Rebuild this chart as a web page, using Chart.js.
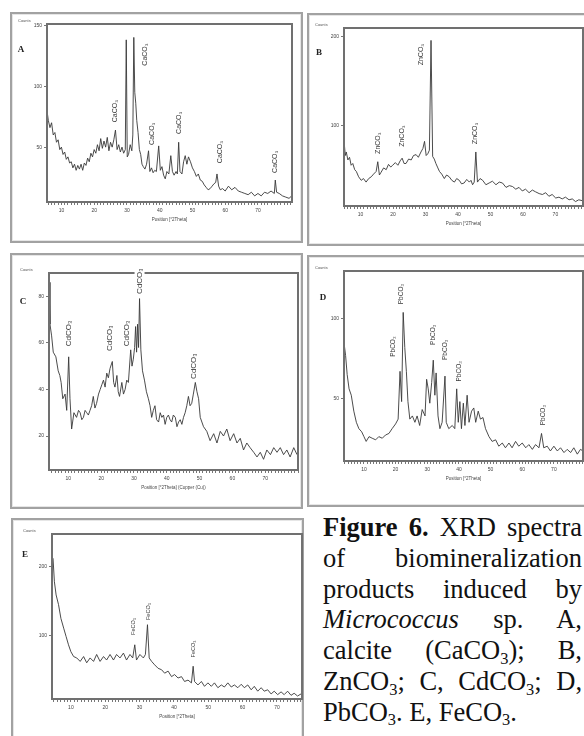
<!DOCTYPE html>
<html>
<head>
<meta charset="utf-8">
<script src="https://cdn.jsdelivr.net/npm/chart.js@4"></script>
<style>
  body { margin: 0; background: #fff; width: 584px; height: 736px; overflow: hidden; position: relative; }
  .box { position: absolute; box-sizing: border-box; border: 2px solid #a2a2a2; box-shadow: inset 0 0 0 1px #e6e6e6; }
  canvas { position: absolute; }
  #caption { position: absolute; left: 323px; top: 512px; width: 259px; font-family: "Liberation Serif", serif; font-size: 26.5px; line-height: 30.8px; color: #111; }
  #caption div { text-align: justify; text-align-last: justify; white-space: nowrap; }
  #caption div.last { text-align-last: left; }
  #caption sub { font-size: 0.62em; vertical-align: baseline; position: relative; top: 0.28em; line-height: 0; }
</style>
</head>
<body>
<div class="box" style="left:10px;top:12px;width:293px;height:231px"></div>
<div class="box" style="left:307px;top:13px;width:285px;height:233px"></div>
<div class="box" style="left:10px;top:253px;width:293px;height:256px"></div>
<div class="box" style="left:307px;top:255px;width:285px;height:252px"></div>
<div class="box" style="left:11px;top:518px;width:293px;height:230px"></div>

<canvas id="chartA" width="293" height="231" style="left:10px;top:12px"></canvas>
<canvas id="chartB" width="285" height="233" style="left:307px;top:13px"></canvas>
<canvas id="chartC" width="293" height="256" style="left:10px;top:253px"></canvas>
<canvas id="chartD" width="285" height="252" style="left:307px;top:255px"></canvas>
<canvas id="chartE" width="293" height="230" style="left:11px;top:518px"></canvas>

<div id="caption">
  <div><b>Figure 6.</b> XRD spectra</div>
  <div>of biomineralization</div>
  <div>products induced by</div>
  <div><i>Micrococcus</i> sp. A,</div>
  <div>calcite (CaCO<sub>3</sub>); B,</div>
  <div>ZnCO<sub>3</sub>; C, CdCO<sub>3</sub>; D,</div>
  <div class="last">PbCO<sub>3</sub>. E, FeCO<sub>3</sub>.</div>
</div>

<script>
// A: calcite
const angleA = [
  5.6, 6, 6.5, 7, 7.5, 8, 8.5, 9, 9.5, 10,
  10.5, 11, 11.5, 12, 12.5, 13, 13.5, 14, 14.5, 15,
  15.5, 16, 16.5, 17, 17.5, 18, 18.5, 19, 19.5, 20,
  20.5, 21, 21.5, 22, 22.5, 23, 23.5, 24, 24.5, 25,
  25.5, 26, 26.5, 27, 27.5, 28, 28.5, 29, 29.5, 29.8,
  30.1, 30.5, 31, 31.5, 31.8, 32.1, 32.4, 32.7, 33, 33.4,
  33.8, 34.2, 34.6, 35, 35.5, 36, 36.6, 37, 37.5, 38,
  38.5, 39, 39.7, 40.2, 40.7, 41.2, 41.7, 42.2, 42.8, 43.4,
  43.9, 44.4, 45, 45.4, 45.8, 46.2, 46.8, 47.3, 47.8, 48.3,
  48.8, 49.4, 50, 50.6, 51.2, 51.8, 52.4, 53, 53.6, 54.2,
  54.8, 55.4, 56, 56.6, 57.1, 57.5, 58, 58.5, 59.2, 60,
  61, 62, 63, 64, 65, 66, 67, 68, 69, 70,
  71, 72, 73, 74, 75, 75.3, 75.7, 76.5, 77.5, 78.5,
  79.5, 80.3
];
const countsA = [
  80, 72, 66, 70, 60, 62, 54, 56, 48, 50,
  44, 46, 40, 42, 37, 38, 33, 36, 31, 35,
  32, 36, 31, 37, 35, 41, 38, 45, 42, 48,
  45, 52, 47, 57, 49, 55, 50, 58, 47, 54,
  50, 56, 64, 48, 52, 46, 50, 45, 48, 138,
  42, 44, 52, 47, 60, 140, 95, 86, 72, 62,
  48, 44, 36, 34, 32, 36, 47, 30, 33, 29,
  31, 30, 51, 31, 34, 27, 24, 30, 28, 43,
  30, 27, 30, 28, 54, 30, 28, 38, 43, 36,
  42, 38, 33, 30, 26, 28, 23, 22, 19, 17,
  15, 16, 18, 20, 21, 28, 18, 15, 16, 14,
  18, 15, 17, 14, 13, 12, 11, 13, 10, 12,
  10, 13, 12, 14, 12, 23, 13, 12, 10, 9,
  8, 10
];
const peakAngleA = [26.5, 35.6, 37.6, 45.8, 58.5, 75.3];
const peakCountA = [79.5, 126, 61, 70, 46, 38];

// B: ZnCO3
const angleB = [
  4.9, 5.3, 5.6, 6.1, 6.6, 7.1, 7.6, 8.2, 8.7, 9.4,
  10.2, 10.9, 11.7, 12.5, 13.3, 14, 14.8, 15.3, 15.8, 16.3,
  17.1, 17.9, 18.6, 19.3, 19.9, 20.7, 21.5, 22.2, 22.8, 23.4,
  24, 24.8, 25.6, 26.3, 27.1, 27.8, 28.6, 29.2, 29.7, 30.2,
  30.7, 31.2, 31.7, 32.2, 32.7, 33.2, 33.8, 34.3, 35, 35.8,
  36.5, 37.3, 38.1, 38.9, 39.6, 40.4, 41.1, 41.9, 42.7, 43.5,
  44, 44.5, 45, 45.5, 46, 46.8, 47.6, 48.6, 49.6, 50.6,
  51.7, 52.7, 53.7, 54.8, 55.8, 56.8, 57.8, 58.8, 59.8, 60.8,
  61.9, 62.9, 63.9, 65, 66, 67, 68, 69, 70.1, 71.1,
  72.1, 73.1, 74.2, 75.2, 76.2, 77.2, 78.3
];
const countsB = [
  83, 66, 70, 61, 64, 55, 57, 50, 48, 42,
  38, 40, 36, 40, 42, 45, 48, 59, 44, 47,
  52, 50, 56, 53, 55, 58, 55, 60, 63, 57,
  57, 62, 61, 66, 67, 64, 70, 74, 82, 66,
  68, 72, 196, 65, 62, 57, 52, 48, 45, 40,
  44, 42, 38, 36, 40, 38, 34, 35, 39, 36,
  38, 33, 36, 70, 36, 40, 38, 33, 35, 37,
  33, 36, 35, 30, 32, 31, 28, 30, 26, 28,
  24, 27, 25, 23, 22, 24, 20, 22, 18, 19,
  17, 19, 16, 17, 14, 16, 15
];
const peakAngleB = [15.3, 22.8, 28.6, 45.2];
const peakCountB = [80, 88, 180, 91];

// C: CdCO3
const angleC = [
  4.1, 4.4, 4.9, 5.4, 6.2, 6.9, 7.4, 7.8, 8.3, 9,
  9.5, 10.1, 10.5, 11, 11.7, 12.5, 13.1, 13.6, 14.1, 14.6,
  15.1, 15.6, 16.1, 16.6, 17.1, 17.6, 18.1, 18.6, 19.2, 19.7,
  20.2, 20.7, 21.2, 21.7, 22.2, 22.7, 23.4, 23.8, 24.2, 24.8,
  25.2, 25.6, 26.3, 26.8, 27.3, 27.8, 28.3, 29, 29.4, 29.8,
  30.2, 30.5, 30.8, 31.1, 31.4, 31.7, 32.1, 32.6, 33.2, 33.8,
  34.4, 34.9, 35.4, 35.9, 36.4, 36.9, 37.5, 38, 38.5, 39,
  39.5, 40, 40.5, 41, 41.5, 42, 42.6, 43.1, 43.6, 44.1,
  44.6, 45.1, 45.6, 46.1, 46.6, 47.1, 47.6, 48.1, 48.7, 49.2,
  49.7, 50.2, 51.2, 52.2, 53.2, 54.3, 55.3, 56.3, 57.3, 58.3,
  59.3, 60.4, 61.4, 62.4, 63.4, 64.4, 65.4, 66.5, 67.5, 68.5,
  69.5, 70.5, 71.6, 72.6, 73.6, 74.6, 75.6, 76.6, 77.6, 78.7,
  79.7
];
const countsC = [
  86, 68, 63, 56, 54, 48, 46, 43, 36, 38,
  31, 54, 36, 23, 30, 28, 31, 30, 27, 28,
  31, 30, 29, 31, 33, 37, 32, 34, 38, 40,
  42, 44, 41, 47, 45, 49, 52, 43, 41, 46,
  39, 37, 43, 38, 40, 44, 43, 57, 50, 53,
  58, 67, 56, 68, 58, 79, 57, 48, 44, 39,
  36, 33, 28, 31, 33, 27, 26, 30, 28, 29,
  25, 28, 29, 27, 26, 29, 28, 24, 26, 27,
  25, 28, 30, 33, 37, 33, 34, 38, 43, 39,
  36, 28, 24, 22, 18, 21, 17, 22, 20, 23,
  18, 21, 17, 19, 14, 17, 15, 13, 11, 13,
  10, 14, 12, 15, 13, 15, 12, 14, 11, 15,
  12
];
const peakAngleC = [10.2, 22.7, 27.8, 31.7, 48.1];
const peakCountC = [64, 62, 64, 86.5, 50];

// D: PbCO3
const angleD = [
  3.7, 4.2, 4.7, 5.3, 6, 6.8, 7.6, 8.4, 9.3, 10,
  10.7, 11.6, 12.6, 13.7, 14.7, 15.8, 16.8, 17.9, 18.9, 20,
  20.8, 21.4, 21.9, 22.4, 22.9, 23.4, 23.9, 24.5, 25.3, 26.1,
  26.8, 27.6, 28.4, 29.3, 29.8, 30.3, 30.8, 31.4, 31.9, 32.4,
  32.8, 33.4, 34, 34.7, 35.6, 36, 36.8, 37.9, 38.7, 39.3,
  39.8, 40.3, 40.8, 41.4, 41.9, 42.6, 43.2, 44, 44.7, 45.3,
  46.1, 46.8, 47.6, 48.4, 49.5, 50.5, 51.6, 52.6, 53.7, 54.7,
  55.8, 56.8, 57.9, 58.9, 60, 61.1, 62.1, 63.2, 64.2, 65.3,
  66.1, 66.8, 67.9, 68.9, 70, 71.1, 72.1, 73.2, 74.2, 75.3,
  76.3, 77.4, 78.4, 79.2
];
const countsD = [
  85, 77, 65, 56, 52, 42, 35, 31, 29, 26,
  23, 26, 25, 24, 26, 25, 27, 28, 31, 34,
  37, 67, 48, 104, 82, 67, 48, 37, 39, 35,
  39, 33, 43, 39, 62, 56, 47, 60, 74, 52,
  66, 39, 31, 35, 64, 35, 31, 33, 31, 56,
  35, 48, 31, 47, 33, 52, 35, 42, 44, 35,
  42, 37, 38, 31, 26, 23, 24, 20, 22, 19,
  22, 19, 23, 20, 22, 19, 21, 18, 21, 19,
  28, 19, 20, 17, 20, 17, 19, 16, 18, 16,
  19, 15, 18, 17
];
const peakAngleD = [19.3, 21.9, 31.8, 35.6, 40, 66.5];
const peakCountD = [82.5, 115.5, 90, 80.5, 67, 39.5];

// E: FeCO3
const angleE = [
  4.8, 5.2, 5.7, 6.4, 7.1, 7.9, 8.6, 9.3, 10, 10.8,
  11.7, 12.7, 13.7, 14.6, 15.6, 16.6, 17.5, 18.5, 19.5, 20.4,
  21.4, 22.4, 23.3, 24.3, 25.3, 26.2, 27.2, 28, 28.6, 29.1,
  30.1, 31.1, 31.7, 32.3, 32.8, 33.5, 34.4, 35.4, 36.4, 37.3,
  38.3, 39.3, 40.2, 41.2, 42.2, 43.1, 44.1, 45.1, 45.6, 46,
  47, 48, 48.9, 49.9, 50.9, 51.8, 52.8, 53.8, 54.7, 55.7,
  56.7, 57.6, 58.6, 59.6, 60.5, 61.5, 62.5, 63.4, 64.4, 65.4,
  66.3, 67.3, 68.3, 69.2, 70.2, 71.2, 72.1, 73.1, 74.1, 75,
  76, 77
];
const countsE = [
  212, 178, 159, 145, 125, 111, 99, 87, 77, 70,
  68, 63, 70, 61, 68, 63, 73, 63, 70, 65,
  73, 65, 73, 68, 75, 65, 73, 68, 87, 65,
  73, 68, 73, 116, 68, 63, 58, 53, 51, 46,
  49, 41, 44, 39, 41, 34, 36, 32, 56, 34,
  29, 34, 27, 32, 27, 32, 25, 29, 26, 32,
  26, 29, 25, 30, 25, 29, 22, 27, 20, 25,
  20, 22, 16, 20, 15, 19, 15, 20, 14, 17,
  13, 16
];
const peakAngleE = [28.2, 32.7, 45.7];
const peakCountE = [113.5, 135, 81];

const xTitle = 'Position [°2Theta]';

function makeChart(id, angles, counts, p) {
  const decor = {
    id: 'decor',
    afterDraw(chart) {
      const { ctx, chartArea: a, scales } = chart;
      ctx.save();
      ctx.strokeStyle = '#707070';
      ctx.lineWidth = 2;
      ctx.strokeRect(a.left, a.top, a.right - a.left, a.bottom - a.top);

      ctx.font = p.labelSize + 'px "Liberation Sans"';
      ctx.textAlign = 'center';
      ctx.textBaseline = 'middle';
      p.peakAngles.forEach((ang, i) => {
        const x = scales.x.getPixelForValue(ang);
        const y = scales.y.getPixelForValue(p.peakCounts[i]);
        const w = ctx.measureText(p.peakText).width;
        ctx.save();
        ctx.translate(x, y);
        ctx.rotate(-Math.PI / 2);
        if (y + w / 2 > a.top - 2 && y - w / 2 < a.top + 2) {
          ctx.fillStyle = '#fff';
          ctx.fillRect(-w / 2 - 4, -p.labelSize / 2 - 1, w + 8, p.labelSize + 2);
        }
        ctx.fillStyle = '#3a3a3a';
        ctx.fillText(p.peakText, 0, 0);
        ctx.restore();
      });

      ctx.fillStyle = '#555';
      ctx.font = '4px "Liberation Sans"';
      ctx.textAlign = 'left';
      ctx.fillText('Counts', a.left - 29, a.top - 3);

      ctx.fillStyle = '#222';
      ctx.font = 'bold 9px "Liberation Serif"';
      ctx.textAlign = 'center';
      ctx.fillText(p.letter, a.left - p.letterDx, a.top + p.letterDy);

      ctx.fillStyle = '#444';
      ctx.font = '4.5px "Liberation Sans"';
      ctx.fillText(p.xTitle, (a.left + a.right) / 2, a.bottom + 18);
      ctx.restore();
    }
  };

  return new Chart(document.getElementById(id), {
    type: 'line',
    data: {
      datasets: [{
        data: angles.map((a, i) => ({ x: a, y: counts[i] })),
        borderColor: '#383838',
        borderWidth: 0.9,
        pointRadius: 0,
        tension: 0
      }]
    },
    options: {
      responsive: false,
      animation: false,
      layout: { padding: { top: p.padTop, right: p.padRight, left: 0, bottom: 0 } },
      plugins: { legend: { display: false }, tooltip: { enabled: false } },
      scales: {
        x: {
          type: 'linear',
          min: p.xMin,
          max: p.xMax,
          afterBuildTicks: s => {
            const t = [];
            for (let v = Math.ceil(s.min); v <= s.max; v++) t.push({ value: v });
            s.ticks = t;
          },
          afterFit: s => { s.height = p.xAxisH; },
          ticks: {
            autoSkip: false, maxRotation: 0, minRotation: 0, padding: 3,
            font: { size: 5, family: 'Liberation Sans' }, color: '#444',
            callback: v => (v % 10 === 0 && v < 80 ? String(v) : '')
          },
          grid: { drawOnChartArea: false, tickLength: 3, color: '#777' },
          border: { display: false }
        },
        y: {
          min: p.yMin,
          max: p.yMax,
          afterBuildTicks: s => { s.ticks = p.yTicks.map(v => ({ value: v })); },
          afterFit: s => { s.width = p.yAxisW; },
          ticks: { padding: 2, font: { size: 5, family: 'Liberation Sans' }, color: '#444' },
          grid: { drawOnChartArea: false, tickLength: 3, color: '#777' },
          border: { display: false }
        }
      }
    },
    plugins: [decor]
  });
}

makeChart('chartA', angleA, countsA, {
  xMin: 5.6, xMax: 80.4, yMin: 5, yMax: 151, yTicks: [50, 100, 150],
  yAxisW: 37, xAxisH: 41, padTop: 12, padRight: 11,
  peakAngles: peakAngleA, peakCounts: peakCountA, peakText: 'CaCO₃', labelSize: 7,
  letter: 'A', letterDx: 26, letterDy: 26, xTitle: xTitle
});
makeChart('chartB', angleB, countsB, {
  xMin: 4.9, xMax: 78.5, yMin: 9, yMax: 210, yTicks: [100, 200],
  yAxisW: 37, xAxisH: 40, padTop: 15, padRight: 9,
  peakAngles: peakAngleB, peakCounts: peakCountB, peakText: 'ZnCO₃', labelSize: 7,
  letter: 'B', letterDx: 25, letterDy: 25, xTitle: xTitle
});
makeChart('chartC', angleC, countsC, {
  xMin: 4.1, xMax: 80, yMin: 5.4, yMax: 90, yTicks: [20, 40, 60, 80],
  yAxisW: 39, xAxisH: 39, padTop: 20, padRight: 5,
  peakAngles: peakAngleC, peakCounts: peakCountC, peakText: 'CdCO₃', labelSize: 8,
  letter: 'C', letterDx: 26, letterDy: 29, xTitle: xTitle + ' (Copper (Cu))'
});
makeChart('chartD', angleD, countsD, {
  xMin: 3.7, xMax: 79.2, yMin: 10.7, yMax: 130, yTicks: [50, 100],
  yAxisW: 37, xAxisH: 46, padTop: 16, padRight: 9,
  peakAngles: peakAngleD, peakCounts: peakCountD, peakText: 'PbCO₃', labelSize: 6.5,
  letter: 'D', letterDx: 21, letterDy: 27, xTitle: xTitle
});
makeChart('chartE', angleE, countsE, {
  xMin: 4.5, xMax: 77.3, yMin: 8.7, yMax: 247, yTicks: [100, 200],
  yAxisW: 41, xAxisH: 49, padTop: 16, padRight: 1,
  peakAngles: peakAngleE, peakCounts: peakCountE, peakText: 'FeCO₃', labelSize: 5.5,
  letter: 'E', letterDx: 27, letterDy: 21, xTitle: xTitle
});
</script>
</body>
</html>
